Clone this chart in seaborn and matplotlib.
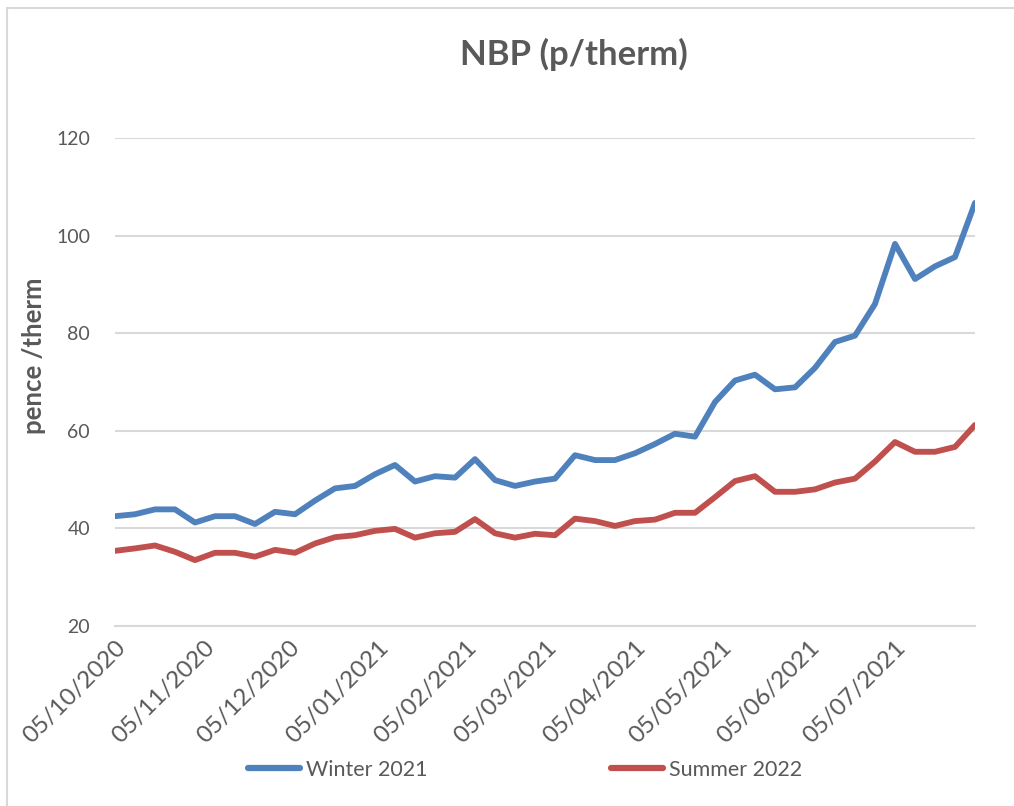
import matplotlib
matplotlib.use('Agg')
import matplotlib.pyplot as plt
import matplotlib.dates as mdates
from matplotlib.patches import Rectangle
import seaborn as sns
import pandas as pd

# weekly NBP forward prices
start_date = '2020-10-05'
n_weeks = 44
winter_2021 = [42.5, 42.9, 43.9, 43.9, 41.2, 42.5, 42.5, 40.9, 43.4, 42.9,
               45.7, 48.2, 48.7, 51.1, 53.0, 49.6, 50.7, 50.4, 54.2, 49.9,
               48.7, 49.6, 50.2, 55.0, 54.0, 54.0, 55.4, 57.3, 59.4, 58.8,
               65.9, 70.3, 71.5, 68.5, 68.9, 72.9, 78.2, 79.5, 86.0, 98.3,
               91.1, 93.7, 95.6, 106.7]
summer_2022 = [35.4, 35.9, 36.5, 35.2, 33.5, 35.0, 35.0, 34.2, 35.6, 35.0,
               36.9, 38.2, 38.6, 39.5, 39.9, 38.1, 39.0, 39.3, 41.9, 39.0,
               38.1, 38.9, 38.6, 42.0, 41.5, 40.5, 41.5, 41.8, 43.2, 43.2,
               46.4, 49.7, 50.7, 47.5, 47.5, 48.0, 49.4, 50.2, 53.7, 57.7,
               55.7, 55.7, 56.7, 61.2]
series_names = ['Winter 2021', 'Summer 2022']
tick_dates = ['2020-10-05', '2020-11-05', '2020-12-05', '2021-01-05',
              '2021-02-05', '2021-03-05', '2021-04-05', '2021-05-05',
              '2021-06-05', '2021-07-05']

dates = pd.date_range(start_date, periods=n_weeks, freq='7D')
df = pd.DataFrame({'date': dates, 'Winter 2021': winter_2021,
                   'Summer 2022': summer_2022})
df = df.melt(id_vars='date', var_name='series', value_name='price')

sns.set_style('white')
plt.rcParams['font.family'] = ['Lato', 'DejaVu Sans']
text_grey = '#595959'
grid_grey = '#D9D9D9'
colors = ['#4F81BD', '#C0504D']

fig = plt.figure(figsize=(10.14, 8.06), dpi=100)
ax = fig.add_axes([115 / 1014, 1 - 626 / 806, 860 / 1014, 488 / 806])

sns.lineplot(data=df, x='date', y='price', hue='series',
             hue_order=series_names, palette=colors, linewidth=4.2, ax=ax,
             legend=False)

ax.set_ylim(20, 120)
ax.set_yticks(range(20, 121, 20))
ax.set_xlim(dates[0], dates[-1])
ax.set_xticks(pd.to_datetime(tick_dates))
ax.xaxis.set_major_formatter(mdates.DateFormatter('%d/%m/%Y'))
ax.yaxis.grid(True, color=grid_grey, linewidth=1.5)
ax.set_axisbelow(True)

for side in ['top', 'right', 'left']:
    ax.spines[side].set_visible(False)
ax.spines['bottom'].set_color(grid_grey)
ax.spines['bottom'].set_linewidth(1.5)

ax.tick_params(axis='x', which='major', direction='out', length=6,
               width=1.2, color=grid_grey, labelsize=17.5,
               labelcolor=text_grey, pad=2)
ax.tick_params(axis='y', length=0, labelsize=14, labelcolor=text_grey,
               pad=18)
for lab in ax.get_xticklabels():
    lab.set_rotation(45)
    lab.set_ha('right')
    lab.set_rotation_mode('anchor')

ax.set_xlabel('')
ax.set_ylabel('')
fig.text(34 / 1014, 1 - 356 / 806, 'pence /therm', rotation=90,
         ha='center', va='center', fontsize=18.5, fontweight='bold',
         color=text_grey)
fig.text(0.5655, 1 - 54 / 806, 'NBP (p/therm)', ha='center', va='center',
         fontsize=25, fontweight='bold', color=text_grey)

handles = [plt.Line2D([], [], color=c, linewidth=4.5) for c in colors]
leg = fig.legend(handles, series_names, loc='center',
                 bbox_to_anchor=(0.518, 1 - 770 / 806), ncol=2,
                 frameon=False, fontsize=15.5, handlelength=2.4,
                 handletextpad=0.3, columnspacing=8.5)
for t in leg.get_texts():
    t.set_color(text_grey)

fig.patches.append(Rectangle((7 / 1014, -0.05), 1.2, 1 - 8 / 806 + 0.05,
                             transform=fig.transFigure, fill=False,
                             edgecolor=grid_grey, linewidth=1.5))

fig.savefig('out.png', dpi=100, facecolor='white')
plt.close(fig)
